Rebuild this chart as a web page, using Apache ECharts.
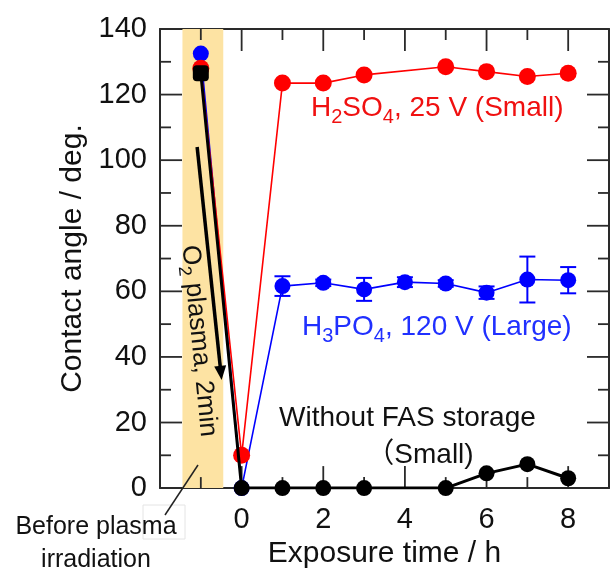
<!DOCTYPE html>
<html><head><meta charset="utf-8">
<script src="https://cdn.jsdelivr.net/npm/echarts@6/dist/echarts.min.js"></script>
<style>html,body{margin:0;padding:0;background:#fff}#c{width:612px;height:574px}</style>
</head><body><div id="c"></div>
<script>
// ---- data ----
const h2so4X = [-1, 0, 1, 2, 3, 5, 6, 7, 8];
const h2so4Y = [128, 10, 123.5, 123.5, 126, 128.5, 127, 125.5, 126.5];
const h3po4X = [-1, 0, 1, 2, 3, 4, 5, 6, 7, 8];
const h3po4Y = [132.5, 0, 61.6, 62.6, 60.6, 62.8, 62.4, 59.6, 63.6, 63.4];
const h3po4Err = [0, 0, 3, 1, 3.5, 1.5, 1, 1.9, 7, 4];
const noFasX = [-1, 0, 1, 2, 3, 5, 6, 7, 8];
const noFasY = [126.5, 0, 0, 0, 0, 0, 4.5, 7.3, 3];
const plasmaBand = [-1.45, -0.45];
const arrowFrom = [-1.09, 104];
const arrowTo = [-0.49, 33];
const xTickLabels = [0, 2, 4, 6, 8];
const xMinorTicks = [-1, 1, 3, 5, 7];
const yTickLabels = [0, 20, 40, 60, 80, 100, 120, 140];
const yMinorTicks = [10, 30, 50, 70, 90, 110, 130];
const X_MIN = -2, X_MAX = 9, Y_MIN = 0, Y_MAX = 140;

// ---- style ----
const FONT = "'Liberation Sans', Arial, Helvetica, sans-serif";
const AX = '#2a2a2a';
const RED = '#ff0000', BLUE = '#0000ff', BLACK = '#000000';

function xAx(pos, labels) {
  return {
    type: 'value', position: pos, min: X_MIN, max: X_MAX, interval: 1,
    axisLine: { show: true, onZero: false, lineStyle: { color: AX, width: 2 } },
    axisTick: { show: false },
    axisLabel: labels ? {
      show: true, margin: 17, color: '#111', fontSize: 29, fontFamily: FONT,
      formatter: v => xTickLabels.indexOf(v) >= 0 ? String(v) : ''
    } : { show: false },
    splitLine: { show: false },
    name: labels ? 'Exposure time / h' : '',
    nameLocation: 'middle', nameGap: 45,
    nameTextStyle: { fontSize: 30, fontFamily: FONT, color: '#111' }
  };
}
function yAx(pos, labels) {
  return {
    type: 'value', position: pos, min: Y_MIN, max: Y_MAX, interval: 20,
    axisLine: { show: true, onZero: false, lineStyle: { color: AX, width: 2 } },
    axisTick: { show: false },
    axisLabel: labels ? {
      show: true, margin: 13, color: '#111', fontSize: 29, fontFamily: FONT,
      formatter: v => yTickLabels.indexOf(v) >= 0 ? String(v) : ''
    } : { show: false },
    splitLine: { show: false },
    name: labels ? 'Contact angle / deg.' : '',
    nameLocation: 'middle', nameGap: 63,
    nameTextStyle: { fontSize: 30, fontFamily: FONT, color: '#111' }
  };
}

// tick rectangles (drawn with the band, positions from the chart's scales)
function tickRects(api) {
  const out = [];
  const T = 1.8;
  const add = (x, y, w, h) => out.push({ type: 'rect', shape: { x: x, y: y, width: w, height: h }, style: { fill: AX } });
  const xt = (v, len) => {
    const b = api.coord([v, Y_MIN]), t = api.coord([v, Y_MAX]);
    add(b[0] - T / 2, b[1] - len, T, len);
    add(t[0] - T / 2, t[1], T, len);
  };
  const yt = (v, len) => {
    const l = api.coord([X_MIN, v]), r = api.coord([X_MAX, v]);
    add(l[0], l[1] - T / 2, len, T);
    add(r[0] - len, r[1] - T / 2, len, T);
  };
  xTickLabels.forEach(v => xt(v, 22));
  xMinorTicks.forEach(v => xt(v, 11));
  yTickLabels.filter(v => v > Y_MIN && v < Y_MAX).forEach(v => yt(v, 22));
  yMinorTicks.forEach(v => yt(v, 11));
  return out;
}

const chart = echarts.init(document.getElementById('c'), null, { renderer: 'canvas' });

const option = {
  animation: false,
  backgroundColor: '#fff',
  grid: { left: 160, right: 1, top: 29, bottom: 84 },
  xAxis: [xAx('bottom', true), xAx('top', false)],
  yAxis: [yAx('left', true), yAx('right', false)],
  series: [
    { // plasma band + frame ticks
      type: 'custom', z: 1, xAxisIndex: 0, yAxisIndex: 0, silent: true, clip: false,
      data: [[plasmaBand[0], plasmaBand[1]]],
      renderItem(params, api) {
        const p0 = api.coord([api.value(0), Y_MAX]);
        const p1 = api.coord([api.value(1), Y_MIN]);
        const children = [{ type: 'rect', shape: { x: p0[0], y: p0[1], width: p1[0] - p0[0], height: p1[1] - p0[1] },
          style: { fill: '#fde3a3' } }].concat(tickRects(api));
        return { type: 'group', children: children };
      }
    },
    { // blue error bars
      type: 'custom', z: 3, xAxisIndex: 0, yAxisIndex: 0, silent: true,
      data: h3po4X.map((x, i) => [x, h3po4Y[i], h3po4Err[i]]).filter(d => d[2] > 0),
      renderItem(params, api) {
        const x = api.value(0), y = api.value(1), e = api.value(2);
        const t = api.coord([x, y + e]), b = api.coord([x, y - e]);
        const w = 8, st = { stroke: BLUE, lineWidth: 2 };
        return { type: 'group', children: [
          { type: 'line', shape: { x1: t[0], y1: t[1], x2: b[0], y2: b[1] }, style: st },
          { type: 'line', shape: { x1: t[0] - w, y1: t[1], x2: t[0] + w, y2: t[1] }, style: st },
          { type: 'line', shape: { x1: b[0] - w, y1: b[1], x2: b[0] + w, y2: b[1] }, style: st }
        ] };
      }
    },
    {
      name: 'H3PO4', type: 'line', z: 3, xAxisIndex: 0, yAxisIndex: 0,
      data: h3po4X.map((x, i) => [x, h3po4Y[i]]),
      symbol: 'circle', symbolSize: 16, itemStyle: { color: BLUE },
      lineStyle: { color: BLUE, width: 1.6 }
    },
    {
      name: 'H2SO4', type: 'line', z: 4, xAxisIndex: 0, yAxisIndex: 0,
      data: h2so4X.map((x, i) => [x, h2so4Y[i]]),
      symbol: 'circle', symbolSize: 17, itemStyle: { color: RED },
      lineStyle: { color: RED, width: 1.6 }
    },
    {
      name: 'Without FAS', type: 'line', z: 5, xAxisIndex: 0, yAxisIndex: 0,
      data: noFasX.map((x, i) => (i === 0 ? { value: [x, noFasY[i]], symbol: 'roundRect' } : [x, noFasY[i]])),
      symbol: 'circle', symbolSize: 16, itemStyle: { color: BLACK },
      lineStyle: { color: BLACK, width: 3 }
    },
    { // arrow
      type: 'custom', z: 6, xAxisIndex: 0, yAxisIndex: 0, silent: true,
      data: [[arrowFrom[0], arrowFrom[1], arrowTo[0], arrowTo[1]]],
      renderItem(params, api) {
        const a = api.coord([api.value(0), api.value(1)]);
        const b = api.coord([api.value(2), api.value(3)]);
        const dx = b[0] - a[0], dy = b[1] - a[1], L = Math.hypot(dx, dy);
        const ux = dx / L, uy = dy / L, nx = -uy, ny = ux;
        const hl = 14, hw = 6;
        const base = [b[0] - ux * hl, b[1] - uy * hl];
        return { type: 'group', children: [
          { type: 'line', shape: { x1: a[0], y1: a[1], x2: base[0] + ux * 2, y2: base[1] + uy * 2 }, style: { stroke: '#000', lineWidth: 3.5 } },
          { type: 'polygon', shape: { points: [b, [base[0] + nx * hw, base[1] + ny * hw], [base[0] - nx * hw, base[1] - ny * hw]] }, style: { fill: '#000' } }
        ] };
      }
    }
  ],
  graphic: [
    { type: 'text', x: 311, y: 108, z: 10, style: {
      text: '{n|H}{s|2}{n|SO}{s|4}{n|, 25 V (Small)}', verticalAlign: 'middle', align: 'left',
      rich: { n: { fontSize: 28, lineHeight: 38, fontFamily: FONT, fill: '#f01010' },
              s: { fontSize: 20, lineHeight: 20, verticalAlign: 'bottom', fontFamily: FONT, fill: '#f01010' } } } },
    { type: 'text', x: 302, y: 327, z: 10, style: {
      text: '{n|H}{s|3}{n|PO}{s|4}{n|, 120 V (Large)}', verticalAlign: 'middle', align: 'left',
      rich: { n: { fontSize: 28, lineHeight: 38, fontFamily: FONT, fill: '#2030ff' },
              s: { fontSize: 20, lineHeight: 20, verticalAlign: 'bottom', fontFamily: FONT, fill: '#2030ff' } } } },
    { type: 'text', x: 279, y: 418, z: 10, style: {
      text: 'Without FAS storage', verticalAlign: 'middle', align: 'left', fontSize: 28, fontFamily: FONT, fill: '#111' } },
    { type: 'text', x: 420, y: 455, z: 10, style: {
      text: '（Small)', verticalAlign: 'middle', align: 'center', fontSize: 28, fontFamily: FONT + ", 'Noto Sans CJK JP'", fill: '#111' } },
    { type: 'text', x: 199, y: 341, rotation: -1.473, z: 10, style: {
      text: '{n|O}{s|2}{n| plasma, 2min}', verticalAlign: 'middle', align: 'center',
      rich: { n: { fontSize: 26, lineHeight: 34, fontFamily: FONT, fill: '#111' },
              s: { fontSize: 18, lineHeight: 18, verticalAlign: 'bottom', fontFamily: FONT, fill: '#111' } } } },
    { type: 'rect', z: 9, shape: { x: 143, y: 505, width: 42, height: 34 }, style: { fill: 'none', stroke: '#e4e4e4', lineWidth: 1 } },
    { type: 'line', z: 10, shape: { x1: 165, y1: 515, x2: 198, y2: 465 }, style: { stroke: '#222', lineWidth: 1.5 } },
    { type: 'text', x: 96, y: 527, z: 10, style: {
      text: 'Before plasma', verticalAlign: 'middle', align: 'center', fontSize: 25, fontFamily: FONT, fill: '#111' } },
    { type: 'text', x: 96, y: 560, z: 10, style: {
      text: 'irradiation', verticalAlign: 'middle', align: 'center', fontSize: 25, fontFamily: FONT, fill: '#111' } }
  ]
};
chart.setOption(option);
</script>
</body></html>
